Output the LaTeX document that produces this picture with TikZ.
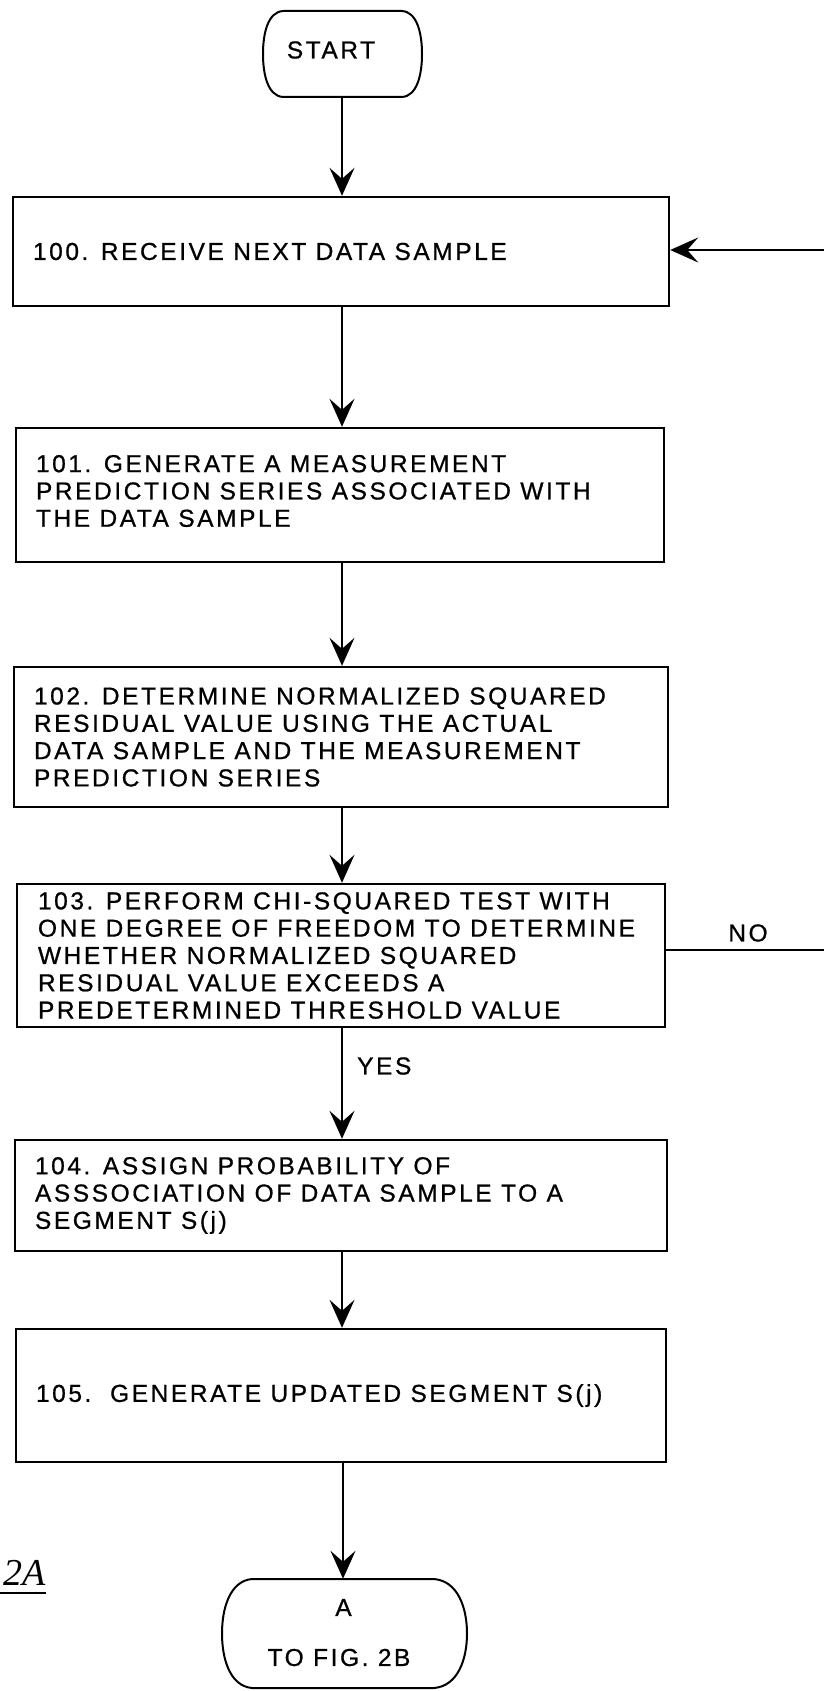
\documentclass[tikz,border=0pt]{standalone}
\usepackage{fontspec}
\setmainfont{Liberation Sans}[LetterSpace=10.5,FakeBold=0.8]
\newfontfamily\figfont{Liberation Serif}
\usetikzlibrary{arrows.meta}
\newcommand\boxfnt{\fontsize{24.5}{27.3}\selectfont}
\begin{document}
\begin{tikzpicture}[x=1pt,y=-1pt,
  box/.style={draw,line width=2.4pt,inner sep=0pt},
  txt/.style={anchor=west,align=left,inner sep=0pt,font=\boxfnt},
  lbl/.style={inner sep=0pt,font=\boxfnt},
  ghost/.style={inner sep=0pt},
  term/.style={line width=2pt},
  conn/.style={line width=1.5pt},
  arr/.style={conn,-{Stealth[length=28pt,width=25pt,inset=11pt]}}]
\useasboundingbox (0,0) rectangle (824,1691);

% START terminal
\node[ghost,minimum width=159pt,minimum height=86pt] (start) at (342.5,54) {};
\draw[term] (283,11) -- (402,11) .. controls (417,12) and (422,33) .. (422,54)
  .. controls (422,75) and (417,96) .. (402,97) -- (283,97)
  .. controls (268,96) and (263,75) .. (263,54)
  .. controls (263,33) and (268,12) .. (283,11) -- cycle;
\node[lbl] (tstart) at (331,50) {START};

% boxes
\node[box,minimum width=656pt,minimum height=109pt] (b100) at (341,251.5) {};
\node[txt] (t100) at ([xshift=21pt]b100.west) {100. RECEIVE NEXT DATA SAMPLE};

\node[box,minimum width=648pt,minimum height=134pt] (b101) at (340,495) {};
\node[txt] (t101) at ([xshift=21pt,yshift=4pt]b101.west) {101. GENERATE A MEASUREMENT\\PREDICTION SERIES ASSOCIATED WITH\\THE DATA SAMPLE};

\node[box,minimum width=654pt,minimum height=140pt] (b102) at (341,737) {};
\node[txt] (t102) at ([xshift=21pt]b102.west) {102. DETERMINE NORMALIZED SQUARED\\RESIDUAL VALUE USING THE ACTUAL\\DATA SAMPLE AND THE MEASUREMENT\\PREDICTION SERIES};

\node[box,minimum width=648pt,minimum height=143pt] (b103) at (341,955.5) {};
\node[txt] (t103) at ([xshift=22pt]b103.west) {103. PERFORM CHI-SQUARED TEST WITH\\ONE DEGREE OF FREEDOM TO DETERMINE\\WHETHER NORMALIZED SQUARED\\RESIDUAL VALUE EXCEEDS A\\PREDETERMINED THRESHOLD VALUE};

\node[box,minimum width=652pt,minimum height=111pt] (b104) at (341,1195.5) {};
\node[txt] (t104) at ([xshift=21pt]b104.west) {104. ASSIGN PROBABILITY OF\\ASSSOCIATION OF DATA SAMPLE TO A\\SEGMENT S(j)};

\node[box,minimum width=650pt,minimum height=133pt] (b105) at (341,1395.5) {};
\node[txt] (t105) at ([xshift=21pt]b105.west) {105.\ \ GENERATE UPDATED SEGMENT S(j)};

% bottom terminal
\node[ghost,minimum width=245pt,minimum height=109pt] (endA) at (344.5,1633.5) {};
\draw[term] (252,1579) -- (434,1579) .. controls (458,1581) and (467,1608) .. (467,1633.5)
  .. controls (467,1659) and (458,1686) .. (434,1688) -- (252,1688)
  .. controls (230,1686) and (222,1659) .. (222,1633.5)
  .. controls (222,1608) and (230,1581) .. (252,1579) -- cycle;
\node[lbl] (tA) at (343.5,1607.5) {A};
\node[lbl] (tfig) at (339,1657.5) {TO FIG. 2B};

% connectors
\draw[arr] (start.south -| 342,0) -- (b100.north -| 342,0);
\draw[arr] (b100.south -| 342,0) -- (b101.north -| 342,0);
\draw[arr] (b101.south -| 342,0) -- (b102.north -| 342,0);
\draw[arr] (b102.south -| 342,0) -- (b103.north -| 342,0);
\draw[arr] (b103.south -| 342,0) -- (b104.north -| 342,0);
\draw[arr] (b104.south -| 342,0) -- (b105.north -| 342,0);
\draw[arr] (b105.south -| 343,0) -- (endA.north -| 343,0);

\node[lbl,anchor=west] (yes) at (357,1066) {YES};

\coordinate (noend) at (824,950);
\draw[conn] (b103.east |- noend) -- (noend);
\node[lbl] (no) at (748,933) {NO};

\coordinate (retin) at (824,250);
\draw[arr] (retin) -- (b100.east |- retin);

% figure label
\node[font=\figfont\itshape\fontsize{38}{40}\selectfont,anchor=base west,inner sep=0pt] (figlbl) at (3,1585) {2A};
\draw[line width=1.4pt] ([shift={(-3,8)}]figlbl.base west) -- ([shift={(0,8)}]figlbl.base east);
\end{tikzpicture}
\end{document}
